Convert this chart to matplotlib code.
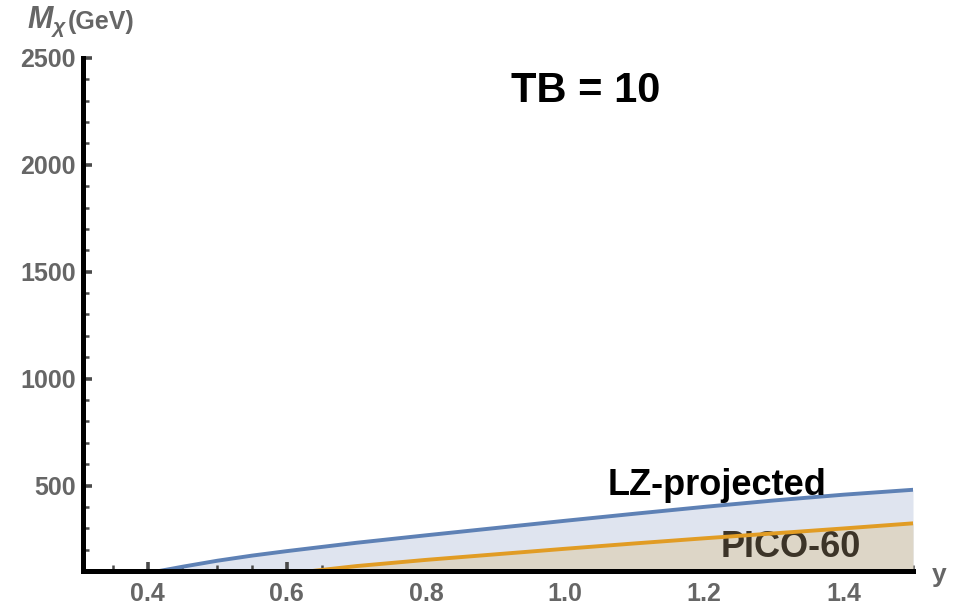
import numpy as np
import matplotlib
matplotlib.use("Agg")
import matplotlib.pyplot as plt
from matplotlib.ticker import MultipleLocator, FixedLocator

plt.rcParams['font.family'] = ['Liberation Sans', 'DejaVu Sans']
plt.rcParams['mathtext.fontset'] = 'custom'
plt.rcParams['mathtext.it'] = 'Liberation Sans:italic:bold'
plt.rcParams['mathtext.rm'] = 'Liberation Sans:bold'

# exclusion curves, M_chi (GeV) vs y, TB = 10
y_lz = [0.40, 0.45, 0.50, 0.55, 0.60, 0.70, 0.80, 0.90, 1.00, 1.10, 1.20, 1.30, 1.40, 1.50]
m_lz = [90, 120, 148, 172, 193, 232, 267, 301, 335, 368, 400, 430, 457, 480]

y_pico = [0.61, 0.65, 0.70, 0.80, 0.90, 1.00, 1.10, 1.20, 1.30, 1.40, 1.50]
m_pico = [90, 105, 123, 152, 178, 204, 229, 253, 276, 299, 323]

x_ticks = [0.4, 0.6, 0.8, 1.0, 1.2, 1.4]
y_ticks = [500, 1000, 1500, 2000, 2500]

blue = '#5e81b5'
orange = '#e19c24'
grey = '#666666'

fig = plt.figure(figsize=(9.54, 6.06), dpi=100)
W, H = 954, 606
ax = fig.add_axes([83 / W, 1 - 571 / H, (913 - 83) / W, (571 - 58) / H])
ax.set_xlim(0.307, 1.5)
ax.set_ylim(100, 2500)

ax.fill_between(y_lz, m_lz, 100, color='#dfe4ef', lw=0, zorder=1)
ax.fill_between(y_pico, m_pico, 100, color='#ddd6c7', lw=0, zorder=2)

ax.text(1.325, 165, 'PICO-60', fontsize=26, fontweight='bold', color='#3c3428',
        ha='center', va='baseline', zorder=3)
ax.plot(y_lz, m_lz, color=blue, lw=2.8, zorder=4)
ax.plot(y_pico, m_pico, color=orange, lw=2.8, zorder=4)
ax.text(1.218, 455, 'LZ-projected', fontsize=26, fontweight='bold', color='black',
        ha='center', va='baseline', zorder=5)
ax.text(1.03, 2294, 'TB = 10', fontsize=30, fontweight='bold', color='black',
        ha='center', va='baseline')

for s in ['top', 'right']:
    ax.spines[s].set_visible(False)
for s in ['left', 'bottom']:
    ax.spines[s].set_linewidth(3.6)
    ax.spines[s].set_color('black')
    ax.spines[s].set_zorder(6)

ax.xaxis.set_major_locator(FixedLocator(x_ticks))
ax.xaxis.set_minor_locator(MultipleLocator(0.05))
ax.yaxis.set_major_locator(FixedLocator(y_ticks))
ax.yaxis.set_minor_locator(MultipleLocator(100))
ax.set_xticklabels(['%.1f' % v for v in x_ticks])
ax.tick_params(which='major', direction='in', length=6.5, width=2.6, color='#4a4a4a',
               labelsize=18, labelcolor=grey)
ax.tick_params(which='minor', direction='in', length=4, width=1.8, color='#4a4a4a')
ax.tick_params(axis='x', which='major', pad=8)
ax.tick_params(axis='y', which='major', pad=5)
for lab in ax.get_xticklabels() + ax.get_yticklabels():
    lab.set_fontweight('bold')

fig.text(932 / W, 1 - 575 / H, 'y', fontsize=19, fontweight='bold', color=grey,
         ha='left', va='center')
fig.text(27 / W, 1 - 22 / H, r'$M_{\chi}$', fontsize=22, color=grey,
         ha='left', va='center')
fig.text(68 / W, 1 - 22 / H, '(GeV)', fontsize=18, fontweight='bold', color=grey,
         ha='left', va='center')

fig.savefig('out.png', dpi=100)
